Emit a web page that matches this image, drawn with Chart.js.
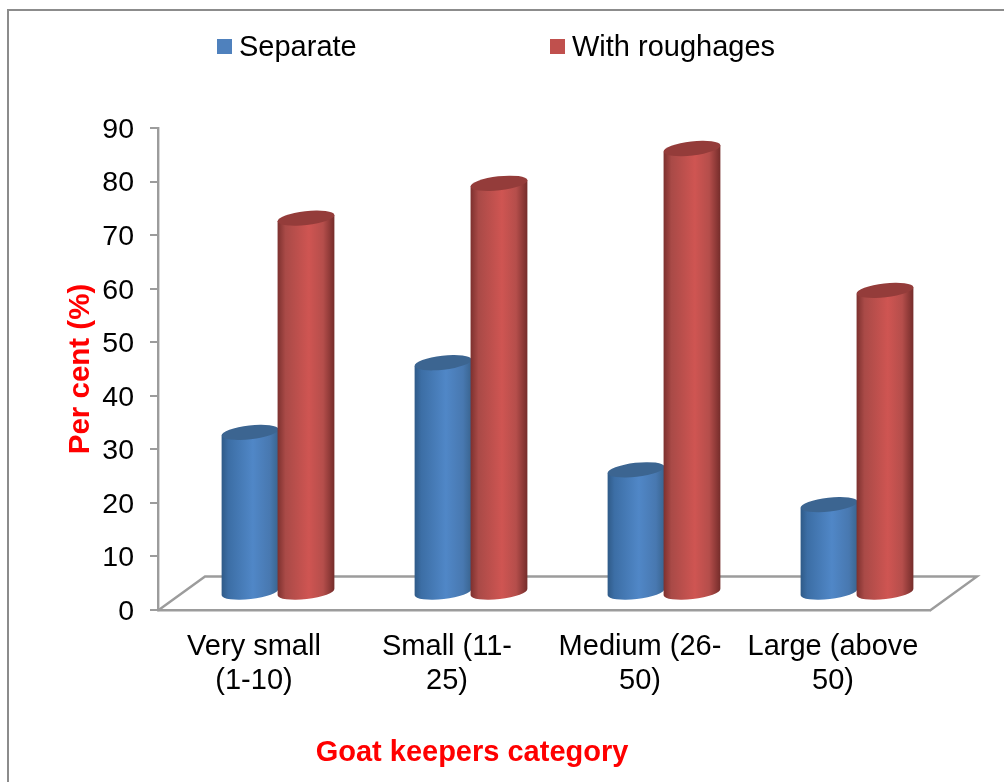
<!DOCTYPE html>
<html>
<head>
<meta charset="utf-8">
<style>
html,body{margin:0;padding:0;background:#fff;overflow:hidden;}
#wrap{position:absolute;left:0;top:0;width:994px;height:782px;}
#frame{position:absolute;left:7px;top:9px;right:0;bottom:-4px;border-left:2px solid #8c8c8c;border-top:2px solid #8c8c8c;}
</style>
<script src="https://cdn.jsdelivr.net/npm/chart.js@4/dist/chart.umd.min.js"></script>
</head>
<body>
<div id="frame"></div>
<div id="wrap"><canvas id="c" width="994" height="782"></canvas></div>
<script>
const categories = [['Very small','(1-10)'],['Small (11-','25)'],['Medium (26-','50)'],['Large (above','50)']];
const separate = [30, 43, 23, 16.5];
const withRoughages = [70, 76.5, 83, 56.5];
const yTicks = [0,10,20,30,40,50,60,70,80,90];
const FONT = '"Liberation Sans", Arial, sans-serif';
const DX = 23.5, DY = -17, FLOOR_DX = 47, FLOOR_DY = -34, TILT = -6.5 * Math.PI / 180, RY = 7;

const looks = [
  {top:'#3c6591', stops:[[0,'#2f5a87'],[0.12,'#3c6ea5'],[0.55,'#5087c7'],[0.85,'#4878b0'],[1,'#39648f']], key:'#4f81bd'},
  {top:'#943c3a', stops:[[0,'#7c302e'],[0.14,'#a94a47'],[0.55,'#cf5552'],[0.8,'#b54e4b'],[1,'#742c2a']], key:'#c0504d'}
];

const cylinders = {
  id:'cylinders',
  beforeDatasetsDraw(chart){
    const {ctx, chartArea:a} = chart;
    const b = chart.scales.y.getPixelForValue(0) + 0.5;
    ctx.save();
    ctx.strokeStyle = '#9c9c9c'; ctx.lineWidth = 2.4; ctx.lineJoin = 'miter';
    ctx.beginPath();
    ctx.moveTo(a.left, b);
    ctx.lineTo(a.left + FLOOR_DX, b + FLOOR_DY);
    ctx.lineTo(a.right + FLOOR_DX, b + FLOOR_DY);
    ctx.lineTo(a.right, b);
    ctx.stroke();
    ctx.restore();
  },
  afterDatasetsDraw(chart){
    const {ctx} = chart;
    const n = chart.data.labels.length;
    for(let i=0;i<n;i++){
      chart.data.datasets.forEach((ds,d)=>{
        const el = chart.getDatasetMeta(d).data[i];
        const look = looks[d];
        const w = el.width/2 + 0.6, x = el.x + DX;
        const yt = el.y + DY, yb = el.base + DY;
        const ca = Math.cos(TILT)*w, sa = Math.sin(TILT)*w;
        const g = ctx.createLinearGradient(x-w,0,x+w,0);
        look.stops.forEach(s=>g.addColorStop(s[0],s[1]));
        ctx.save();
        ctx.fillStyle = g;
        ctx.beginPath();
        ctx.moveTo(x-ca, yt-sa);
        ctx.lineTo(x-ca, yb-sa);
        ctx.ellipse(x,yb,w,RY,TILT,Math.PI,0,true);
        ctx.lineTo(x+ca, yt+sa);
        ctx.closePath();
        ctx.fill();
        ctx.fillStyle = look.top;
        ctx.beginPath();
        ctx.ellipse(x,yt,w,RY,TILT,0,Math.PI*2);
        ctx.fill();
        ctx.restore();
      });
    }
  },
  afterDraw(chart){
    const {ctx} = chart;
    ctx.save();
    ctx.textBaseline = 'middle';
    ctx.textAlign = 'left';
    ctx.font = '29px ' + FONT;
    const xs = [217, 550];
    chart.data.datasets.forEach((ds,d)=>{
      ctx.fillStyle = looks[d].key;
      ctx.fillRect(xs[d],39,15,15);
      ctx.fillStyle = '#000';
      ctx.fillText(ds.label, xs[d]+22, 48);
    });
    ctx.font = 'bold 29px ' + FONT;
    ctx.fillStyle = '#ff0000';
    ctx.textAlign = 'center';
    ctx.fillText('Goat keepers category', 472, 753);
    ctx.restore();
  }
};

new Chart(document.getElementById('c'),{
  type:'bar',
  data:{labels:categories,datasets:[
    {label:'Separate',data:separate,backgroundColor:'rgba(0,0,0,0)',categoryPercentage:0.58,barPercentage:1},
    {label:'With roughages',data:withRoughages,backgroundColor:'rgba(0,0,0,0)',categoryPercentage:0.58,barPercentage:1}
  ]},
  options:{
    responsive:false,animation:false,
    layout:{padding:{top:128,right:64,bottom:0,left:0}},
    plugins:{legend:{display:false},title:{display:false},tooltip:{enabled:false}},
    scales:{
      x:{
        afterFit(s){s.height=172;},
        grid:{display:false,drawTicks:false},
        border:{display:true,color:'#9c9c9c',width:2.4},
        ticks:{font:{size:29,family:FONT,lineHeight:1.17},color:'#000',padding:20,autoSkip:false,maxRotation:0,minRotation:0,labelOffset:-0.5}
      },
      y:{
        min:0,max:90,
        afterFit(s){s.width=158;},
        afterBuildTicks(s){s.ticks=yTicks.map(v=>({value:v}));},
        grid:{drawOnChartArea:false,drawTicks:true,tickLength:8,color:'#9c9c9c',lineWidth:2},
        border:{display:true,color:'#9c9c9c',width:2.4},
        ticks:{font:{size:28.5,family:FONT},color:'#000',padding:16,labelOffset:2},
        title:{display:true,text:'Per cent (%)',color:'#ff0000',font:{size:29.5,weight:'bold',family:FONT,lineHeight:1.2},padding:{top:63,bottom:0}}
      }
    }
  },
  plugins:[cylinders]
});
</script>
</body>
</html>
